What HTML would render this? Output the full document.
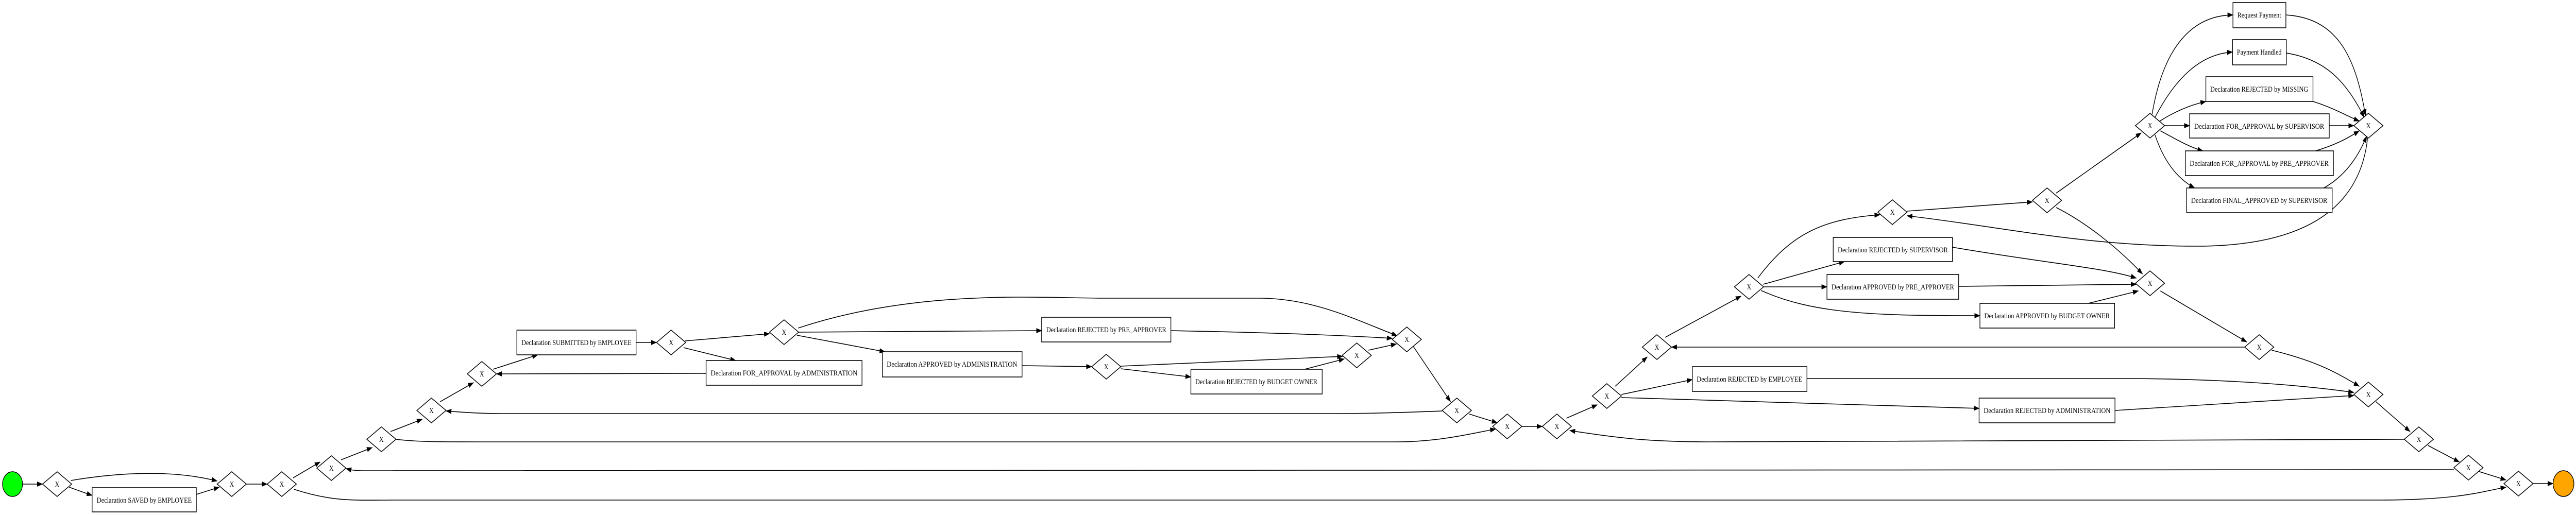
<!DOCTYPE html>
<html><head><meta charset="utf-8"><style>
html,body{margin:0;padding:0;background:#fff;width:100%;height:100%;overflow:hidden;}
svg{display:block;position:fixed;left:0;top:0;width:100vw;height:100vh;}
text{font-family:"Liberation Serif",serif;font-size:15px;fill:#000;}
.e{fill:none;stroke:#000;stroke-width:1.6;marker-end:url(#a);}
.b{fill:#fff;stroke:#000;stroke-width:1.6;}
</style></head><body>
<svg viewBox="0 0 6180 1000" preserveAspectRatio="none" xmlns="http://www.w3.org/2000/svg">
<defs><marker id="a" markerWidth="14" markerHeight="10" refX="13" refY="5" orient="auto" markerUnits="userSpaceOnUse"><path d="M0,0 L14,5 L0,10 Z" fill="#000"/></marker></defs>

<g>
<path class="e" d="M54,940 L102,940"/>
<path class="e" d="M170,933 Q380,905 521,934"/>
<path class="e" d="M166,946 L221,962"/>
<path class="e" d="M471,960 L526,946"/>
<path class="e" d="M591,940 L641,940"/>
<path class="e" d="M703,928 L768,897"/>
<path class="e" d="M705,950 C800,975 850,971 950,971 L5700,971 C5900,971 5950,955 6012,946"/>
<path class="e" d="M818,893 L893,869"/>
<path class="e" d="M937,838 L1013,814"/>
<path class="e" d="M950,853 C1000,858 1050,858 1150,858 L3350,858 C3450,858 3530,842 3588,833"/>
<path class="e" d="M1056,780 L1136,743"/>
<path class="e" d="M3460,798 C3300,803 3250,803 3150,803 L1200,803 C1150,803 1100,800 1070,798"/>
<path class="e" d="M1183,717 L1290,689"/>
<path class="e" d="M1526,665 L1575,665"/>
<path class="e" d="M1643,662 L1846,648"/>
<path class="e" d="M1640,675 L1765,700"/>
<path class="e" d="M1694,725 L1191,726"/>
<path class="e" d="M1915,637 C2200,560 2500,579 2650,579 L3020,579 C3150,579 3250,620 3352,652"/>
<path class="e" d="M1916,645 L2499,642"/>
<path class="e" d="M1912,651 L2123,683"/>
<path class="e" d="M2452,710 L2619,712"/>
<path class="e" d="M2689,711 L3221,692"/>
<path class="e" d="M2689,716 L2857,732"/>
<path class="e" d="M3130,717 L3225,697"/>
<path class="e" d="M2809,642 C3000,645 3200,650 3340,657"/>
<path class="e" d="M3283,680 L3350,668"/>
<path class="e" d="M3390,672 L3480,780"/>
<path class="e" d="M3525,804 L3592,821"/>
<path class="e" d="M3651,828 L3700,828"/>
<path class="e" d="M5768,853 L4100,858 C3950,858 3880,850 3766,836"/>
<path class="e" d="M3758,812 L3832,786"/>
<path class="e" d="M3875,750 L3952,693"/>
<path class="e" d="M3890,766 L4060,737"/>
<path class="e" d="M3890,772 L4748,793"/>
<path class="e" d="M5385,674 L4010,674"/>
<path class="e" d="M3995,655 L4177,575"/>
<path class="e" d="M4217,540 C4300,450 4380,425 4510,417"/>
<path class="e" d="M4230,552 L4425,508"/>
<path class="e" d="M4231,557 L4383,557"/>
<path class="e" d="M4225,564 C4350,610 4500,613 4750,613"/>
<path class="e" d="M4575,410 L4876,392"/>
<path class="e" d="M5680,268 C5660,420 5500,478 5270,478 C5000,478 4800,440 4575,419"/>
<path class="e" d="M4933,375 L5137,258"/>
<path class="e" d="M4933,403 C5000,430 5080,480 5140,532"/>
<path class="e" d="M5163,222 C5190,90 5260,30 5357,29"/>
<path class="e" d="M5170,228 C5220,150 5280,105 5356,101"/>
<path class="e" d="M5180,236 C5220,215 5260,203 5292,197"/>
<path class="e" d="M5193,244 L5253,244"/>
<path class="e" d="M5183,254 C5220,270 5250,285 5285,293"/>
<path class="e" d="M5170,262 C5190,310 5220,345 5265,365"/>
<path class="e" d="M5484,29 C5600,35 5650,100 5675,225"/>
<path class="e" d="M5485,103 C5580,115 5630,160 5672,228"/>
<path class="e" d="M5549,197 C5600,210 5630,225 5660,235"/>
<path class="e" d="M5588,244 L5647,244"/>
<path class="e" d="M5555,293 C5600,282 5630,270 5660,254"/>
<path class="e" d="M5575,365 C5630,340 5660,300 5678,264"/>
<path class="e" d="M4684,480 C4900,510 5050,520 5125,540"/>
<path class="e" d="M4699,556 L5125,552"/>
<path class="e" d="M5010,589 L5130,565"/>
<path class="e" d="M5183,565 L5390,664"/>
<path class="e" d="M5450,680 C5550,700 5600,720 5660,750"/>
<path class="e" d="M4335,735 L5080,735 C5300,735 5500,745 5647,762"/>
<path class="e" d="M5074,797 L5647,768"/>
<path class="e" d="M5700,780 L5782,838"/>
<path class="e" d="M5825,865 L5900,897"/>
<path class="e" d="M5887,912 L870,914 C850,914 840,912 830,910"/>
<path class="e" d="M5945,915 L6012,932"/>
<path class="e" d="M6077,939 L6125,939"/>
</g>

<circle cx="30" cy="940" r="24" fill="#00ff00" stroke="#000" stroke-width="1.5"/>
<circle cx="6150" cy="939" r="25" fill="#ffa500" stroke="#000" stroke-width="1.5"/>

<g id="diamonds">
<g transform="translate(137,940)"><path class="b" d="M-35,0 L0,-24 L35,0 L0,24 Z"/><text x="0" y="5" text-anchor="middle">X</text></g>
<g transform="translate(556,940)"><path class="b" d="M-35,0 L0,-24 L35,0 L0,24 Z"/><text x="0" y="5" text-anchor="middle">X</text></g>
<g transform="translate(676,940)"><path class="b" d="M-35,0 L0,-24 L35,0 L0,24 Z"/><text x="0" y="5" text-anchor="middle">X</text></g>
<g transform="translate(795,909)"><path class="b" d="M-35,0 L0,-24 L35,0 L0,24 Z"/><text x="0" y="5" text-anchor="middle">X</text></g>
<g transform="translate(915,853)"><path class="b" d="M-35,0 L0,-24 L35,0 L0,24 Z"/><text x="0" y="5" text-anchor="middle">X</text></g>
<g transform="translate(1035,797)"><path class="b" d="M-35,0 L0,-24 L35,0 L0,24 Z"/><text x="0" y="5" text-anchor="middle">X</text></g>
<g transform="translate(1156,726)"><path class="b" d="M-35,0 L0,-24 L35,0 L0,24 Z"/><text x="0" y="5" text-anchor="middle">X</text></g>
<g transform="translate(1610,665)"><path class="b" d="M-35,0 L0,-24 L35,0 L0,24 Z"/><text x="0" y="5" text-anchor="middle">X</text></g>
<g transform="translate(1881,645)"><path class="b" d="M-35,0 L0,-24 L35,0 L0,24 Z"/><text x="0" y="5" text-anchor="middle">X</text></g>
<g transform="translate(2654,712)"><path class="b" d="M-35,0 L0,-24 L35,0 L0,24 Z"/><text x="0" y="5" text-anchor="middle">X</text></g>
<g transform="translate(3375,659)"><path class="b" d="M-35,0 L0,-24 L35,0 L0,24 Z"/><text x="0" y="5" text-anchor="middle">X</text></g>
<g transform="translate(3255,690)"><path class="b" d="M-35,0 L0,-24 L35,0 L0,24 Z"/><text x="0" y="5" text-anchor="middle">X</text></g>
<g transform="translate(3495,797)"><path class="b" d="M-35,0 L0,-24 L35,0 L0,24 Z"/><text x="0" y="5" text-anchor="middle">X</text></g>
<g transform="translate(3616,828)"><path class="b" d="M-35,0 L0,-24 L35,0 L0,24 Z"/><text x="0" y="5" text-anchor="middle">X</text></g>
<g transform="translate(3735,828)"><path class="b" d="M-35,0 L0,-24 L35,0 L0,24 Z"/><text x="0" y="5" text-anchor="middle">X</text></g>
<g transform="translate(3855,769)"><path class="b" d="M-35,0 L0,-24 L35,0 L0,24 Z"/><text x="0" y="5" text-anchor="middle">X</text></g>
<g transform="translate(3975,674)"><path class="b" d="M-35,0 L0,-24 L35,0 L0,24 Z"/><text x="0" y="5" text-anchor="middle">X</text></g>
<g transform="translate(4196,557)"><path class="b" d="M-35,0 L0,-24 L35,0 L0,24 Z"/><text x="0" y="5" text-anchor="middle">X</text></g>
<g transform="translate(4540,412)"><path class="b" d="M-35,0 L0,-24 L35,0 L0,24 Z"/><text x="0" y="5" text-anchor="middle">X</text></g>
<g transform="translate(4911,389)"><path class="b" d="M-35,0 L0,-24 L35,0 L0,24 Z"/><text x="0" y="5" text-anchor="middle">X</text></g>
<g transform="translate(5158,244)"><path class="b" d="M-35,0 L0,-24 L35,0 L0,24 Z"/><text x="0" y="5" text-anchor="middle">X</text></g>
<g transform="translate(5682,244)"><path class="b" d="M-35,0 L0,-24 L35,0 L0,24 Z"/><text x="0" y="5" text-anchor="middle">X</text></g>
<g transform="translate(5158,550)"><path class="b" d="M-35,0 L0,-24 L35,0 L0,24 Z"/><text x="0" y="5" text-anchor="middle">X</text></g>
<g transform="translate(5420,674)"><path class="b" d="M-35,0 L0,-24 L35,0 L0,24 Z"/><text x="0" y="5" text-anchor="middle">X</text></g>
<g transform="translate(5682,766)"><path class="b" d="M-35,0 L0,-24 L35,0 L0,24 Z"/><text x="0" y="5" text-anchor="middle">X</text></g>
<g transform="translate(5803,853)"><path class="b" d="M-35,0 L0,-24 L35,0 L0,24 Z"/><text x="0" y="5" text-anchor="middle">X</text></g>
<g transform="translate(5922,908)"><path class="b" d="M-35,0 L0,-24 L35,0 L0,24 Z"/><text x="0" y="5" text-anchor="middle">X</text></g>
<g transform="translate(6042,939)"><path class="b" d="M-35,0 L0,-24 L35,0 L0,24 Z"/><text x="0" y="5" text-anchor="middle">X</text></g>
</g>

<g id="boxes">
<rect class="b" x="221" y="947" width="250" height="47"/><text x="346" y="976" text-anchor="middle" textLength="228" lengthAdjust="spacingAndGlyphs">Declaration SAVED by EMPLOYEE</text>
<rect class="b" x="1240" y="641" width="286" height="48"/><text x="1383" y="670" text-anchor="middle" textLength="264" lengthAdjust="spacingAndGlyphs">Declaration SUBMITTED by EMPLOYEE</text>
<rect class="b" x="1694" y="700" width="374" height="48"/><text x="1881" y="729" text-anchor="middle" textLength="352" lengthAdjust="spacingAndGlyphs">Declaration FOR_APPROVAL by ADMINISTRATION</text>
<rect class="b" x="2499" y="616" width="310" height="48"/><text x="2654" y="645" text-anchor="middle" textLength="288" lengthAdjust="spacingAndGlyphs">Declaration REJECTED by PRE_APPROVER</text>
<rect class="b" x="2117" y="683" width="335" height="49"/><text x="2284" y="712" text-anchor="middle" textLength="313" lengthAdjust="spacingAndGlyphs">Declaration APPROVED by ADMINISTRATION</text>
<rect class="b" x="2857" y="717" width="315" height="48"/><text x="3014" y="746" text-anchor="middle" textLength="293" lengthAdjust="spacingAndGlyphs">Declaration REJECTED by BUDGET OWNER</text>
<rect class="b" x="4060" y="712" width="275" height="48"/><text x="4197" y="741" text-anchor="middle" textLength="253" lengthAdjust="spacingAndGlyphs">Declaration REJECTED by EMPLOYEE</text>
<rect class="b" x="4748" y="773" width="326" height="48"/><text x="4911" y="802" text-anchor="middle" textLength="304" lengthAdjust="spacingAndGlyphs">Declaration REJECTED by ADMINISTRATION</text>
<rect class="b" x="4398" y="461" width="286" height="47"/><text x="4541" y="490" text-anchor="middle" textLength="264" lengthAdjust="spacingAndGlyphs">Declaration REJECTED by SUPERVISOR</text>
<rect class="b" x="4383" y="533" width="316" height="48"/><text x="4541" y="562" text-anchor="middle" textLength="294" lengthAdjust="spacingAndGlyphs">Declaration APPROVED by PRE_APPROVER</text>
<rect class="b" x="4750" y="589" width="323" height="48"/><text x="4911" y="618" text-anchor="middle" textLength="301" lengthAdjust="spacingAndGlyphs">Declaration APPROVED by BUDGET OWNER</text>
<rect class="b" x="5357" y="5" width="127" height="49"/><text x="5420" y="34" text-anchor="middle" textLength="105" lengthAdjust="spacingAndGlyphs">Request Payment</text>
<rect class="b" x="5356" y="77" width="129" height="49"/><text x="5420" y="106" text-anchor="middle" textLength="107" lengthAdjust="spacingAndGlyphs">Payment Handled</text>
<rect class="b" x="5292" y="149" width="257" height="48"/><text x="5420" y="178" text-anchor="middle" textLength="235" lengthAdjust="spacingAndGlyphs">Declaration REJECTED by MISSING</text>
<rect class="b" x="5253" y="221" width="335" height="47"/><text x="5420" y="250" text-anchor="middle" textLength="312" lengthAdjust="spacingAndGlyphs">Declaration FOR_APPROVAL by SUPERVISOR</text>
<rect class="b" x="5243" y="293" width="355" height="48"/><text x="5420" y="322" text-anchor="middle" textLength="333" lengthAdjust="spacingAndGlyphs">Declaration FOR_APPROVAL by PRE_APPROVER</text>
<rect class="b" x="5246" y="365" width="349" height="48"/><text x="5420" y="394" text-anchor="middle" textLength="327" lengthAdjust="spacingAndGlyphs">Declaration FINAL_APPROVED by SUPERVISOR</text>
</g>
</svg>
</body></html>
